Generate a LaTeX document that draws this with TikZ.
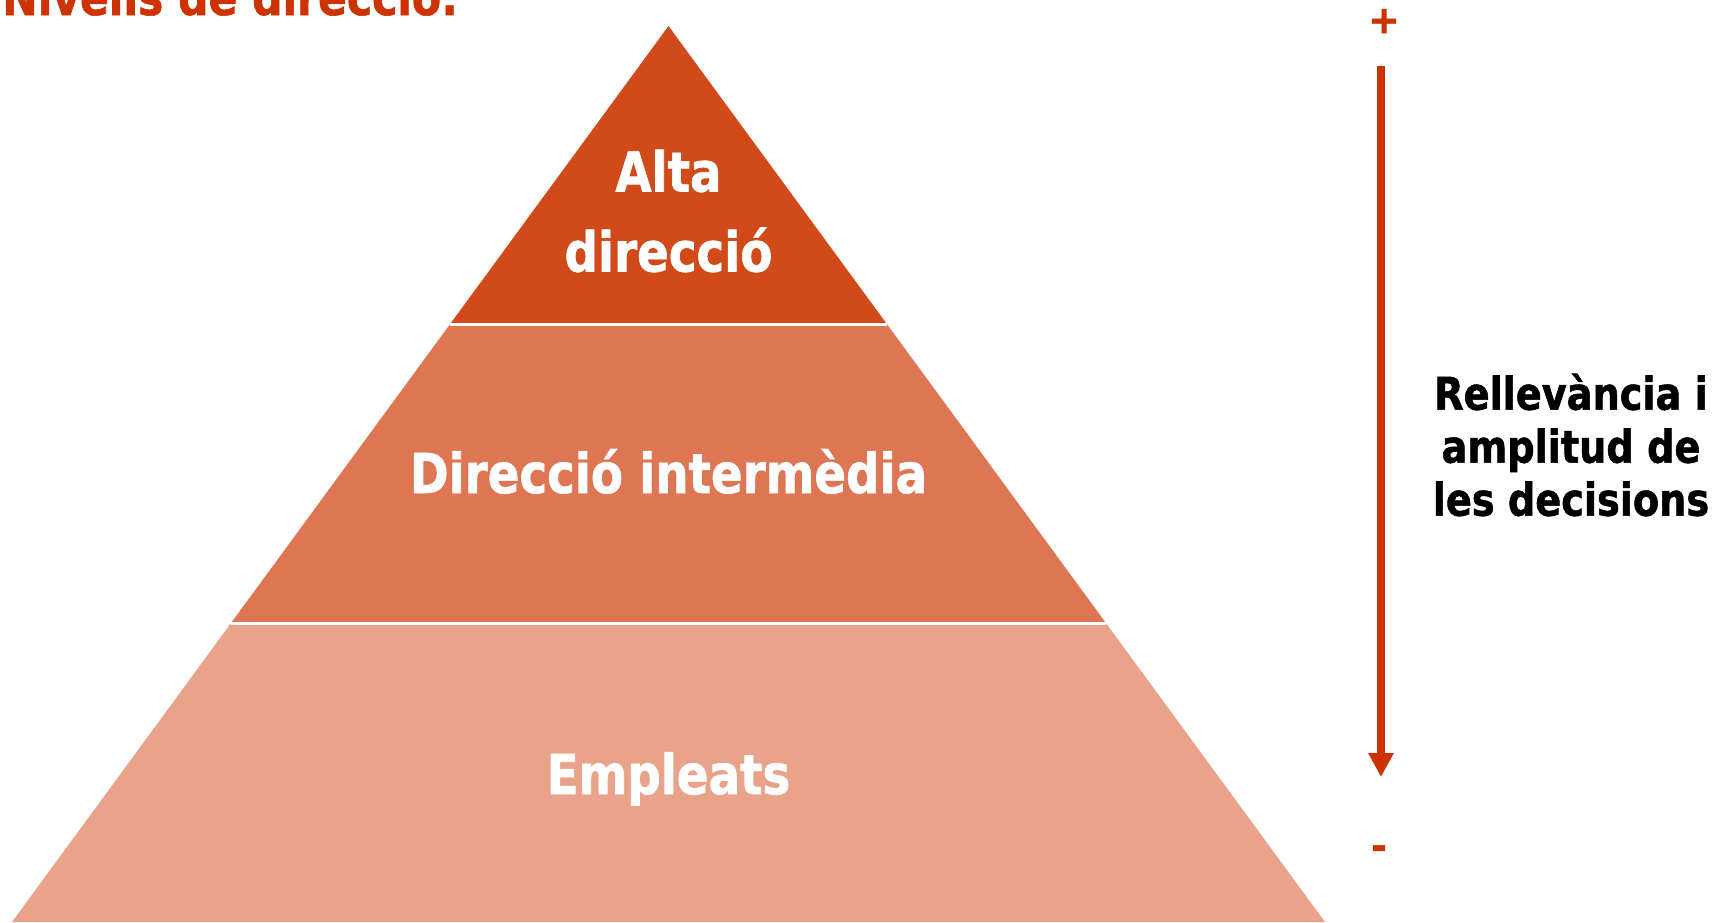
\documentclass[tikz,border=0pt]{standalone}
\usepackage{fontspec}
\usetikzlibrary{arrows.meta,calc}
\newfontfamily\narrowsans[FakeStretch=0.85,FakeBold=1.2]{DejaVu Sans}
\newfontfamily\plainsans[FakeBold=1.5]{DejaVu Sans}
\definecolor{toplevel}{HTML}{D14A19}
\definecolor{midlevel}{HTML}{DE7553}
\definecolor{baselevel}{HTML}{E9A38A}
\definecolor{accentred}{HTML}{CC3300}

\begin{document}
\begin{tikzpicture}[x=1pt,y=-1pt,
  levellabel/.style={text=white, inner sep=0pt, align=center,
    font=\narrowsans\bfseries\fontsize{55}{80}\selectfont},
  divider/.style={white, line width=2.5pt},
  sign/.style={anchor=base, inner sep=0pt, text=accentred,
    font=\plainsans\bfseries\fontsize{38}{44}\selectfont},
  scale arrow/.style={accentred, line width=8pt,
    -{Triangle[width=24pt,length=24pt]}}]
\useasboundingbox (0,0) rectangle (1725,922);

% pyramid corners and the two band limits
\coordinate (apex) at (668.5,26);
\coordinate (bl) at (12,922);
\coordinate (br) at (1325,922);
\coordinate (l1) at ($(apex)!1/3!(bl)$);
\coordinate (r1) at ($(apex)!1/3!(br)$);
\coordinate (l2) at ($(apex)!2/3!(bl)$);
\coordinate (r2) at ($(apex)!2/3!(br)$);

\fill[toplevel] (apex) -- (r1) -- (l1) -- cycle;
\fill[midlevel] (l1) -- (r1) -- (r2) -- (l2) -- cycle;
\fill[baselevel] (l2) -- (r2) -- (br) -- (bl) -- cycle;
\draw[divider] (l1) -- (r1);
\draw[divider] (l2) -- (r2);

% level names
\node[levellabel] (alta) at (668.5,211) {Alta\\direcció};
\node[levellabel, anchor=base] (mitjana) at (668.5,493) {Direcció intermèdia};
\node[levellabel, anchor=base] (empleats) at (668.5,794) {Empleats};

% heading
\node[anchor=base west, inner sep=0pt, text=accentred,
  font=\narrowsans\bfseries\fontsize{50}{60}\selectfont] (titol) at (2,15) {Nivells de direcció:};

% relevance scale
\node[sign] (mes) at (1384,33) {+};
\node[sign] (menys) at (1379,859) {-};
\coordinate (fletxa-inici) at (1381,66);
\coordinate (fletxa-final) at (1381,777);
\draw[scale arrow] (fletxa-inici) -- (fletxa-final);

\node[align=center, inner sep=0pt,
  font=\narrowsans\bfseries\fontsize{45}{53}\selectfont] (rellevancia) at (1571,445)
  {Rellevància i\\amplitud de\\les decisions};
\end{tikzpicture}
\end{document}
